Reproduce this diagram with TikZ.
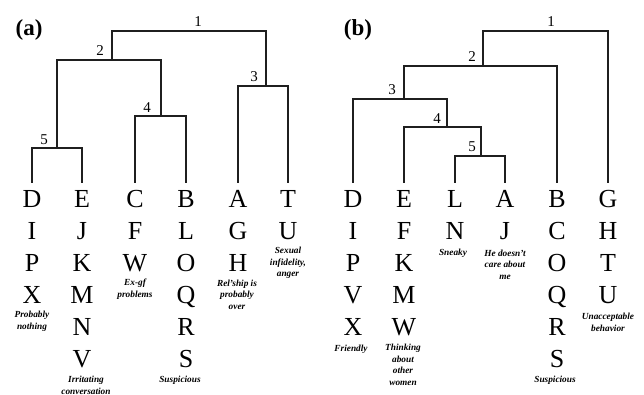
\documentclass[tikz,border=0pt]{standalone}
\usepackage{fontspec}
\setmainfont{Liberation Serif}
\begin{document}
\begin{tikzpicture}[x=1pt,y=-1pt,
  link/.style={line width=1.2pt,draw=black!88},
  leaf/.style={anchor=north,font=\fontsize{26}{26}\selectfont,text height=17pt,
    text depth=0pt,inner xsep=0pt,inner ysep=7pt},
  num/.style={font=\fontsize{15}{15}\selectfont,inner sep=0pt},
  panel/.style={font=\fontsize{23}{23}\selectfont\bfseries,inner sep=0pt},
  note/.style={font=\fontsize{9.3}{11.5}\selectfont\bfseries\itshape,align=center,inner sep=0pt}]
\useasboundingbox (0,0) rectangle (644,395);

% ---------- panel (a) ----------
\node[panel] (pa) at (29,30) {(a)};
\foreach \name/\x/\letters in {D/32/{D,I,P,X},E/82/{E,J,K,M,N,V},C/135/{C,F,W},
    B/186/{B,L,O,Q,R,S},A/238/{A,G,H},T/288/{T,U}}{
  \foreach \l [count=\k from 0] in \letters {
    \node[leaf] (a\name\k) at (\x,183+32*\k) {\l};
  }
}
\coordinate (a5) at (57,148);
\coordinate (a4) at (161,116);
\coordinate (a2) at (112,60);
\coordinate (a3) at (266,86);
\coordinate (a1) at (189,31);
\draw[link] (aD0.north) |- (a5) -| (aE0.north);
\draw[link] (aC0.north) |- (a4) -| (aB0.north);
\draw[link] (a5) |- (a2) -| (a4);
\draw[link] (aA0.north) |- (a3) -| (aT0.north);
\draw[link] (a2) |- (a1) -| (a3);
\node[num] (la1) at (198,22) {1};
\node[num] (la2) at (100,51) {2};
\node[num] (la3) at (254,77) {3};
\node[num] (la4) at (147,108) {4};
\node[num] (la5) at (44,140) {5};

\node[note] (na1) at (32,321.5) {Probably\\nothing};
\node[note] (na2) at (86,385.5) {Irritating\\conversation};
\node[note] (na3) at (135,289) {Ex-gf\\problems};
\node[note] (na4) at (180,380) {Suspicious};
\node[note] (na5) at (237,294.5) {Rel'ship is\\probably\\over};
\node[note] (na6) at (288,263) {Sexual\\infidelity,\\anger};

% ---------- panel (b) ----------
\node[panel] (pb) at (358,30) {(b)};
\foreach \name/\x/\letters in {D/353/{D,I,P,V,X},E/404/{E,F,K,M,W},L/455/{L,N},
    A/505/{A,J},B/557/{B,C,O,Q,R,S},G/608/{G,H,T,U}}{
  \foreach \l [count=\k from 0] in \letters {
    \node[leaf] (b\name\k) at (\x,183+32*\k) {\l};
  }
}
\coordinate (b5) at (481,156);
\coordinate (b4) at (447,127);
\coordinate (b3) at (404,99);
\coordinate (b2) at (483,66);
\coordinate (b1) at (545,31);
\draw[link] (bL0.north) |- (b5) -| (bA0.north);
\draw[link] (bE0.north) |- (b4) -| (b5);
\draw[link] (bD0.north) |- (b3) -| (b4);
\draw[link] (b3) |- (b2) -| (bB0.north);
\draw[link] (b2) |- (b1) -| (bG0.north);
\node[num] (lb1) at (551,22) {1};
\node[num] (lb2) at (472,57) {2};
\node[num] (lb3) at (392,90) {3};
\node[num] (lb4) at (437,119) {4};
\node[num] (lb5) at (472,147) {5};

\node[note] (nb1) at (351,349) {Friendly};
\node[note] (nb2) at (403,365) {Thinking\\about\\other\\women};
\node[note] (nb3) at (453,253) {Sneaky};
\node[note] (nb4) at (505,264.5) {He doesn't\\care about\\me};
\node[note] (nb5) at (555,380) {Suspicious};
\node[note] (nb6) at (608,322.5) {Unacceptable\\behavior};
\end{tikzpicture}
\end{document}
